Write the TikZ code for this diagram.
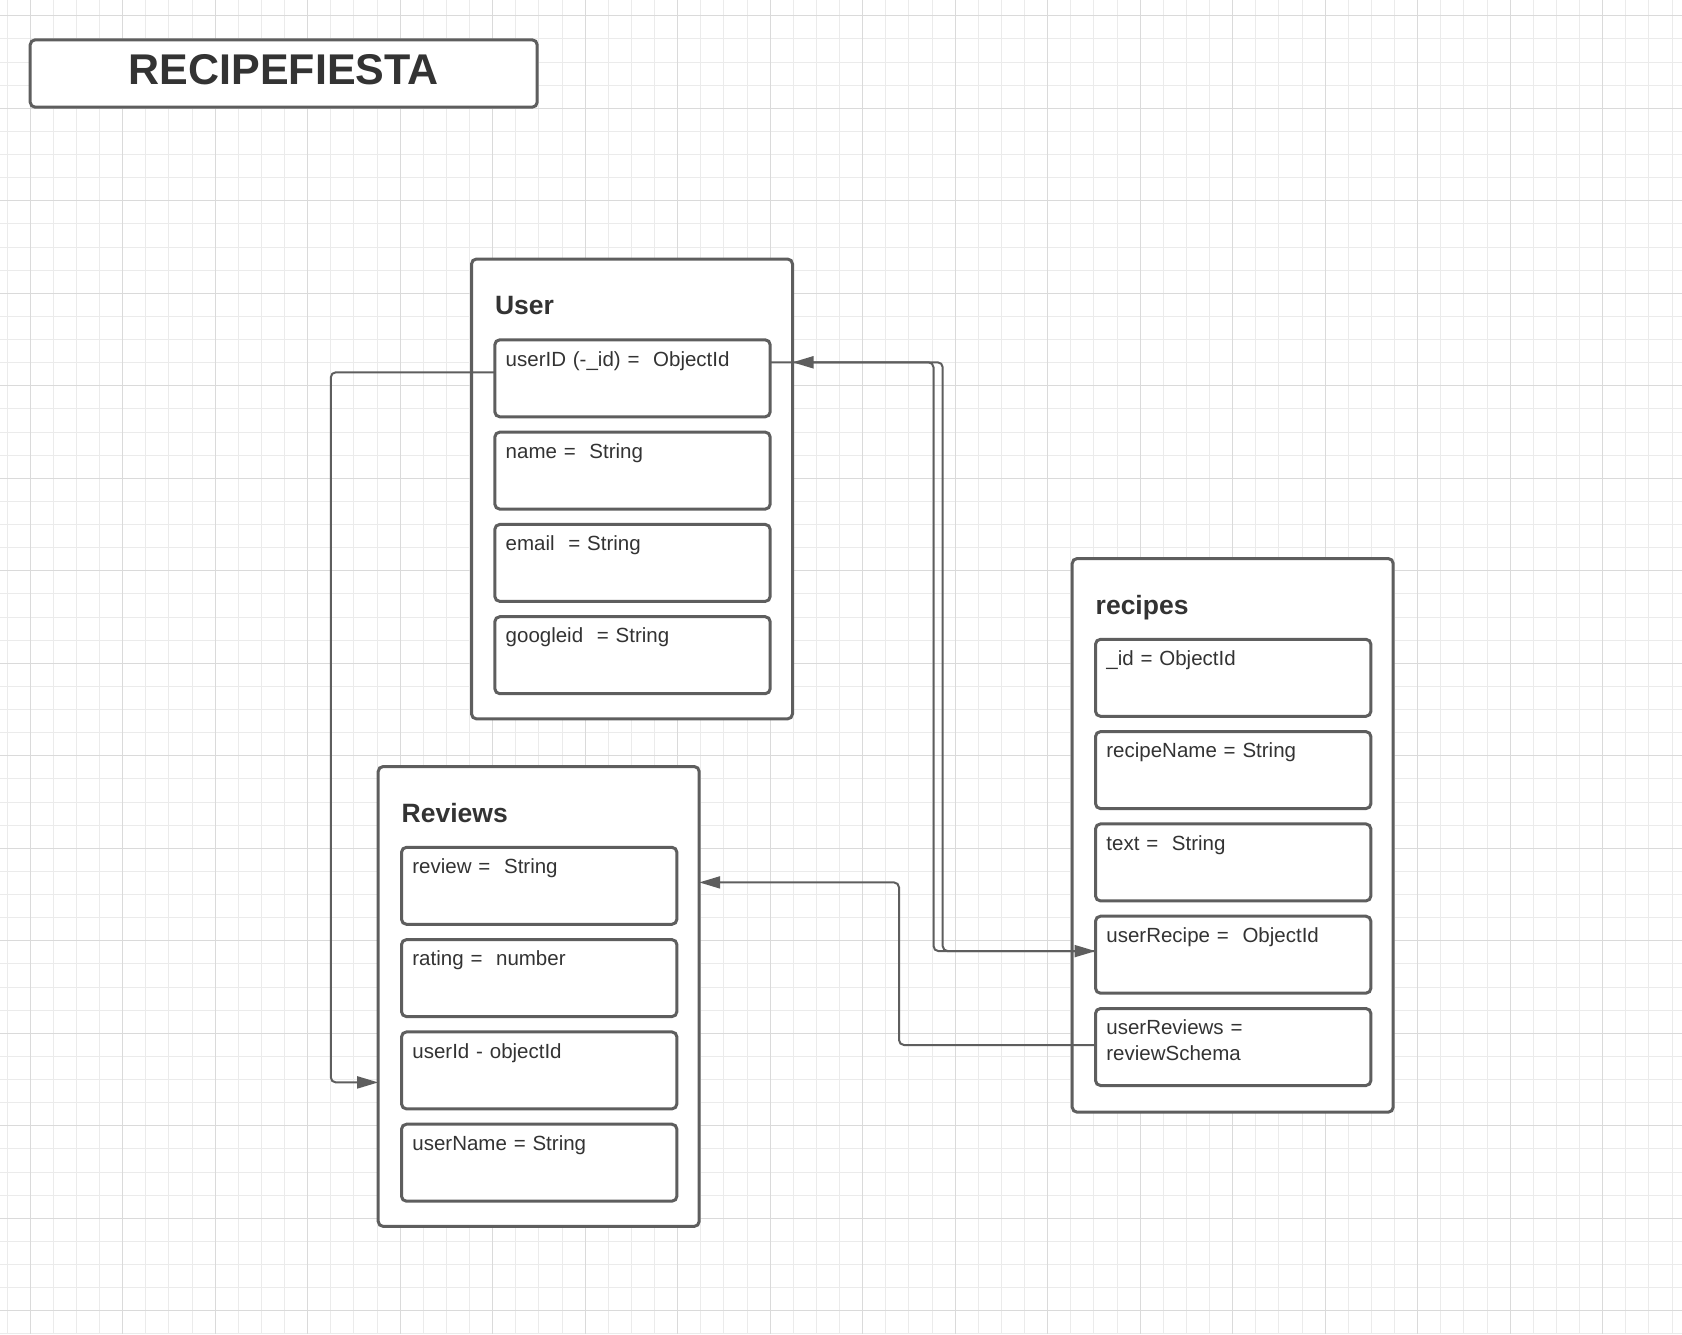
\documentclass[tikz,border=0pt]{standalone}
\usepackage{fontspec}
\setmainfont{Liberation Sans}
\usepackage{tikz}
\usetikzlibrary{arrows.meta,positioning}
\definecolor{inkgray}{HTML}{333333}
\definecolor{edgegray}{HTML}{5E5E5E}
\definecolor{gridminor}{HTML}{EBEBEB}
\definecolor{gridmajor}{HTML}{DADADA}

\begin{document}
\begin{tikzpicture}[x=1pt,y=-1pt,
			every node/.style={outer sep=0pt},
			schema/.style={draw=edgegray,line width=3pt,fill=white,rounded corners=5pt,anchor=north west,
				font=\fontsize{26.5}{30}\selectfont\bfseries,text=inkgray,align=left,
				inner xsep=23.5pt,inner ysep=0pt,text width=274pt,text height=55.5pt},
			field/.style={draw=edgegray,line width=3pt,fill=white,rounded corners=5pt,
				font=\fontsize{20.5}{25.3}\selectfont,text=inkgray,align=left,
				inner xsep=10.9pt,inner ysep=0pt,text width=253.6pt,text height=26.2pt,text depth=50.8pt},
			conn/.style={draw=edgegray,line width=2pt,rounded corners=5pt},
			arr/.style={conn,-{Triangle[length=21pt,width=12pt]}}
			]
			\useasboundingbox (0,0) rectangle (1682,1334);
			\fill[white] (0,0) rectangle (1682,1334);
			\foreach \i in {0,...,72} \draw[gridminor,line width=1pt] ({round(6.5+23.125*\i)+0.5},0) -- ({round(6.5+23.125*\i)+0.5},1334);
			\foreach \j in {0,...,57} \draw[gridminor,line width=1pt] (0,{round(15.3+23.125*\j)+0.5}) -- (1682,{round(15.3+23.125*\j)+0.5});
			\foreach \i in {0,...,17} \draw[gridmajor,line width=1pt] ({round(29.6+92.5*\i)+0.5},0) -- ({round(29.6+92.5*\i)+0.5},1334);
			\foreach \j in {0,...,14} \draw[gridmajor,line width=1pt] (0,{round(15.3+92.5*\j)+0.5}) -- (1682,{round(15.3+92.5*\j)+0.5});

			\node[draw=edgegray,line width=3pt,fill=white,rounded corners=5pt,anchor=north west,
				minimum width=507pt,inner sep=0pt,text height=44.5pt,text depth=22.9pt,
				font=\fontsize{43}{43}\selectfont\bfseries,text=inkgray] (banner) at (30.2,39.8) {RECIPEFIESTA};

			\node[schema,text depth=404.4pt] (user) at (471.5,259) {User};
			\node[field] (uid) [below right=80.8pt and 23.3pt of user.north west] {userID (-\_id) =~~ObjectId};
			\node[field] (uname) [below=15.3pt of uid] {name =~~String};
			\node[field] (uemail) [below=15.3pt of uname] {email~~= String};
			\node[field] (ugoogle) [below=15.3pt of uemail] {googleid~~= String};

			\node[schema,text depth=404.4pt] (reviews) at (378.2,766.5) {Reviews};
			\node[field] (rreview) [below right=80.8pt and 23.3pt of reviews.north west] {review =~~String};
			\node[field] (rrating) [below=15.3pt of rreview] {rating =~~number};
			\node[field] (ruserid) [below=15.3pt of rrating] {userId - objectId};
			\node[field] (rusername) [below=15.3pt of ruserid] {userName = String};

			\node[schema,text depth=498.2pt] (recipes) at (1072.2,558.5) {recipes};
			\node[field] (cid) [below right=80.8pt and 23.3pt of recipes.north west] {\_id = ObjectId};
			\node[field] (cname) [below=15.3pt of cid] {recipeName = String};
			\node[field] (ctext) [below=15.3pt of cname] {text =~~String};
			\node[field] (cuser) [below=15.3pt of ctext] {userRecipe =~~ObjectId};
			\node[field] (creviews) [below=15.3pt of cuser] {userReviews =\\reviewSchema};

			\coordinate (uidleft) at ([yshift=6pt]uid.west);
			\coordinate (uidright) at ([yshift=16pt]uid.east);
			\coordinate (revin) at ([yshift=-12pt]ruserid.west);
			\coordinate (revtop) at ([yshift=3.4pt]rreview.east);
			\coordinate (cuserin) at ([yshift=3.6pt]cuser.west);
			\coordinate (crevout) at ([yshift=2pt]creviews.west);

			\draw[arr] (uidleft) -- ++(-164,0) |- (reviews.west |- revin);
			\draw[arr] (uidright) -- ++(172.5,0) |- (cuserin);
			\draw[arr] (cuserin) -- ++(-162,0) |- (user.east |- uidright);
			\draw[arr] (crevout) -- ++(-196.5,0) |- (reviews.east |- revtop);
		\end{tikzpicture}
\end{document}
